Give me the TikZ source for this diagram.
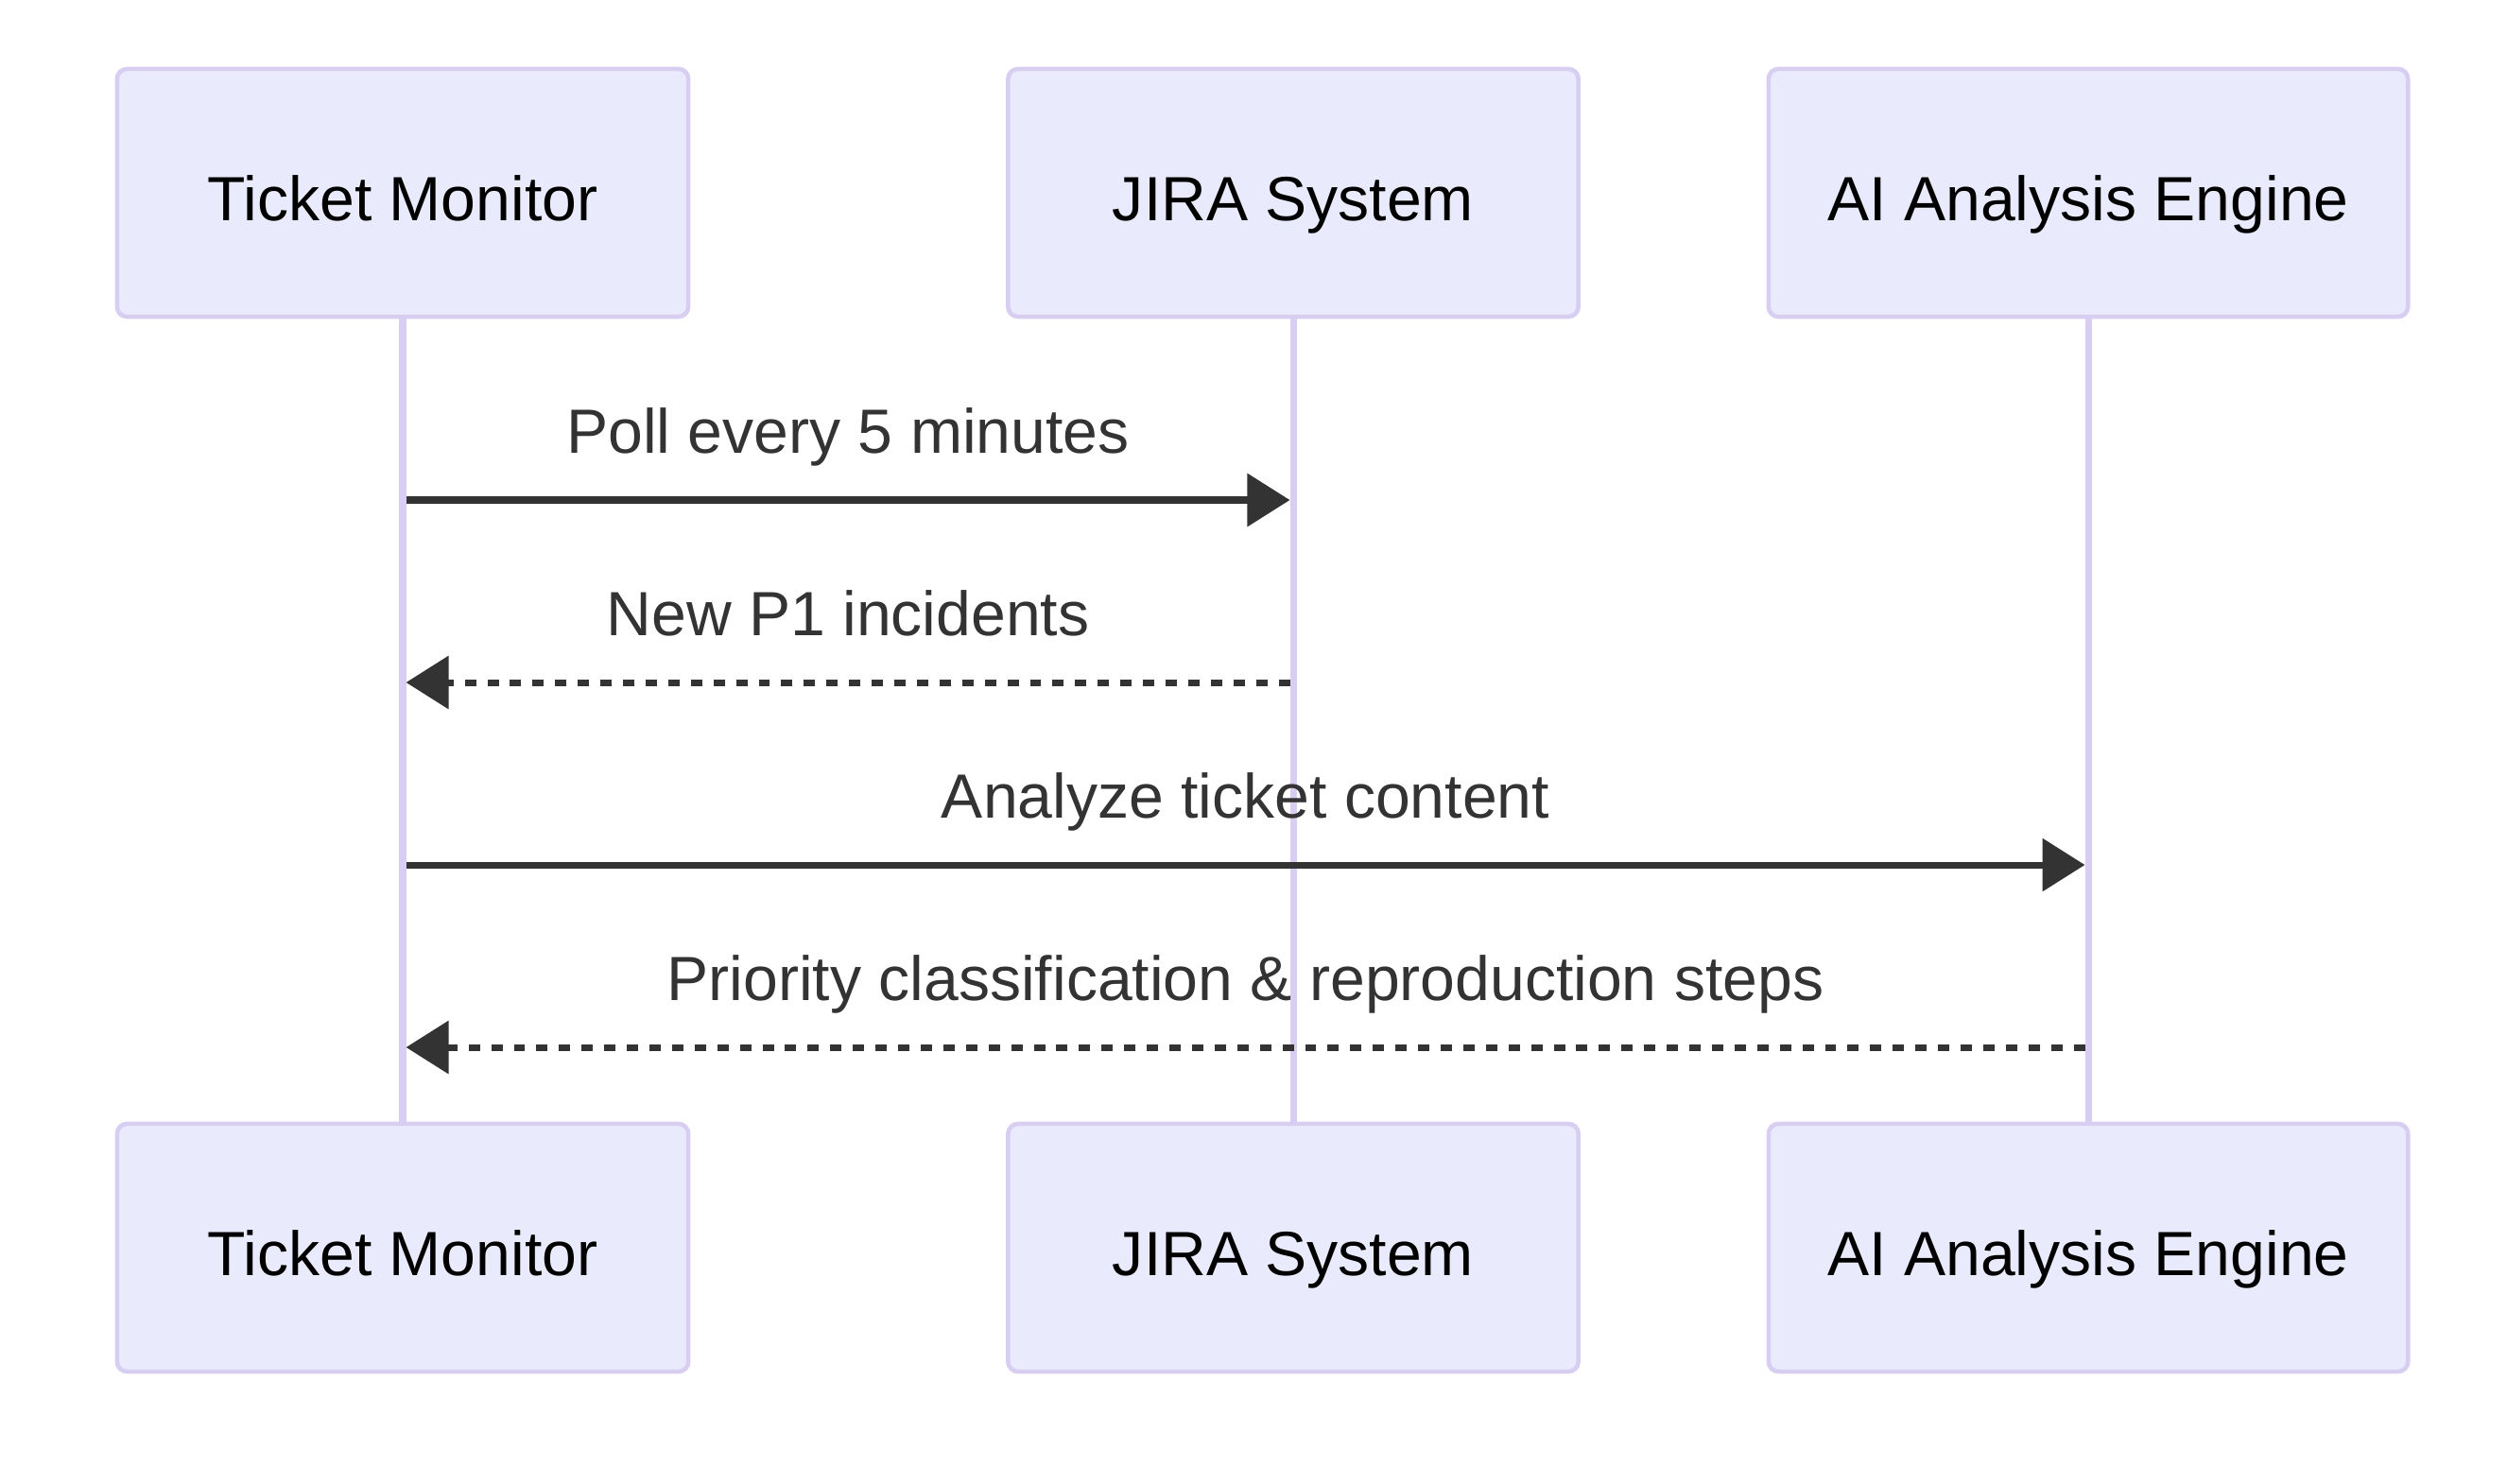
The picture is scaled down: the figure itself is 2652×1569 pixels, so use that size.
\documentclass[tikz,border=0pt]{standalone}
\usepackage{fontspec}
\setmainfont{Liberation Sans}
\usetikzlibrary{arrows.meta}
\definecolor{actorfill}{HTML}{EAEAFD}
\definecolor{actorline}{HTML}{D8CEF1}
\definecolor{msgcol}{HTML}{333333}
\tikzset{
  actor/.style={draw=actorline,line width=1.3pt,fill=actorfill,rounded corners=3pt,
    minimum height=2.62cm,font=\fontsize{18.8}{22}\selectfont,text=black,
    text height=17pt,text depth=0pt},
  lifeline/.style={draw=actorline,line width=2pt},
  msg/.style={draw=msgcol,line width=2pt,shorten <=1pt,shorten >=1pt,
    -{Triangle[length=12.8pt,width=15.6pt]}},
  reply/.style={msg,dash pattern=on 3.4pt off 3.4pt},
  msglabel/.style={text=msgcol,font=\fontsize{18.8}{22}\selectfont,
    anchor=base,yshift=0.49cm},
}
\begin{document}
\begin{tikzpicture}[x=0.01cm,y=-0.01cm]
  \useasboundingbox (0,0) rectangle (2652,1569);
  % actors, top and bottom
  \node[actor,minimum width=6.04cm] (tmtop) at (426,204) {Ticket Monitor};
  \node[actor,minimum width=6.03cm] (jiratop) at (1368,204) {JIRA System};
  \node[actor,minimum width=6.76cm] (aitop) at (2209,204) {AI Analysis Engine};
  \node[actor,minimum width=6.04cm] (tmbot) at (426,1320) {Ticket Monitor};
  \node[actor,minimum width=6.03cm] (jirabot) at (1368,1320) {JIRA System};
  \node[actor,minimum width=6.76cm] (aibot) at (2209,1320) {AI Analysis Engine};
  % lifelines
  \draw[lifeline] (tmtop) -- (tmbot);
  \draw[lifeline] (jiratop) -- (jirabot);
  \draw[lifeline] (aitop) -- (aibot);
  % message rows
  \coordinate (row1) at (0,529);
  \coordinate (row2) at (0,722);
  \coordinate (row3) at (0,915);
  \coordinate (row4) at (0,1108);
  \draw[msg] (tmtop |- row1) -- (jiratop |- row1)
    node[msglabel,midway] {Poll every 5 minutes};
  \draw[reply] (jiratop |- row2) -- (tmtop |- row2)
    node[msglabel,midway] {New P1 incidents};
  \draw[msg] (tmtop |- row3) -- (aitop |- row3)
    node[msglabel,midway] {Analyze ticket content};
  \draw[reply] (aitop |- row4) -- (tmtop |- row4)
    node[msglabel,midway] {Priority classification \& reproduction steps};
\end{tikzpicture}
\end{document}
